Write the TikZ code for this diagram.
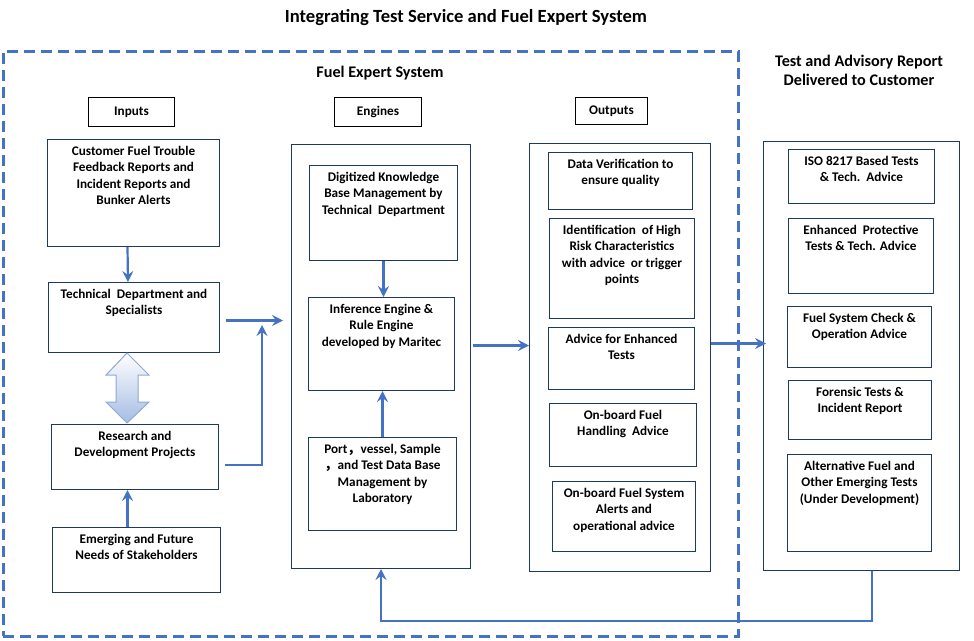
\documentclass[tikz,border=0pt]{standalone}
\usepackage{fontspec}
\setmainfont{Carlito}
\newfontfamily\cjk{Noto Sans CJK SC}
\usetikzlibrary{arrows.meta,calc}
\definecolor{arrblue}{HTML}{4472C4}
\definecolor{navy}{HTML}{203864}
\definecolor{dblfill}{HTML}{A5BCE3}
\definecolor{dbldraw}{HTML}{8FA8D4}
\tikzset{
    box/.style={draw=navy, line width=1pt, anchor=north west, inner sep=0pt},
    hdr/.style={draw=black, line width=1pt, anchor=north west, inner sep=0pt, font=\fontsize{13.2}{15}\selectfont\bfseries},
    txt/.style={anchor=north, inner sep=0pt, align=center, font=\fontsize{13.2}{16.3}\selectfont\bfseries},
    ttl/.style={inner sep=0pt, align=center, font=\fontsize{16.2}{19}\selectfont\bfseries},
    flow/.style={draw=arrblue, line width=2.2pt, -{Stealth[length=11pt,width=11pt,inset=4pt]}}
}
\begin{document}
\begin{tikzpicture}[x=1pt,y=-1pt]
\useasboundingbox (0,0) rectangle (974,640);
\node[ttl, font=\fontsize{18.6}{20}\selectfont\bfseries] (title) at (466,18) {Integrating Test Service and Fuel Expert System};
\node[draw=arrblue, line width=2.5pt, dash pattern=on 11pt off 6pt, anchor=north west, inner sep=0pt, minimum width=735pt, minimum height=585pt] (fesys) at (2,50) {};
\node[ttl] (festitle) at (380,73) {Fuel Expert System};
\node[ttl] (reptitle) at (859,70) {Test and Advisory Report\\Delivered to Customer};
\foreach \x/\y/\w/\h/\n/\t in {88/97/86/29/inputs/Inputs, 334/97/87/29/engines/Engines, 575/97/72/27/outputs/Outputs}{
    \node[hdr, minimum width=\w pt, minimum height=\h pt] (\n) at (\x,\y) {\t};
}
\foreach \x/\y/\w/\h/\n in {291/144/179/424/engbox, 529/143/181/428/outbox, 763/141/196/429/repbox}{
    \node[box, minimum width=\w pt, minimum height=\h pt] (\n) at (\x,\y) {};
}
\foreach \x/\y/\w/\h/\n/\t in {
    47/139/172/107/cust/{Customer Fuel Trouble\\Feedback Reports and\\Incident Reports and\\Bunker Alerts},
    48/282/171/70/tech/{Technical\ \ Department and\\Specialists},
    51/424/167/65/rnd/{Research and\\Development Projects},
    52/527/168/65/needs/{Emerging and Future\\Needs of Stakeholders},
    309/165/148/95/know/{Digitized Knowledge\\Base Management by\\Technical\ \ Department},
    308/297/146/93/infer/{Inference Engine \&\\Rule Engine\\developed by Maritec},
    308/437/148/93/portdb/{Port{\cjk ，}vessel, Sample\\{\cjk ，}and Test Data Base\\Management by\\Laboratory},
    548/152/144/57/verif/{Data Verification to\\ensure quality},
    549/218/145/100/risk/{Identification\ \ of High\\Risk Characteristics\\with advice\ \ or trigger\\points},
    548/327/146/62/enh/{Advice for Enhanced\\Tests},
    549/403/147/63/handl/{On-board Fuel\\Handling\ \ Advice},
    552/481/143/70/alerts/{On-board Fuel System\\Alerts and\\operational advice},
    788/149/146/54/iso/{ISO 8217 Based Tests\\\& Tech.\ \ Advice},
    788/218/145/75/prot/{Enhanced\ \ Protective\\Tests \& Tech. Advice},
    787/306/144/61/check/{Fuel System Check \&\\Operation Advice},
    788/380/143/59/foren/{Forensic Tests \&\\Incident Report},
    787/454/144/97/altf/{Alternative Fuel and\\Other Emerging Tests\\(Under Development)}}{
    \node[box, minimum width=\w pt, minimum height=\h pt] (\n) at (\x,\y) {};
    \node[txt] (\n-t) at ([yshift=-7pt]\n.north) {\t};
}
\draw[draw=dbldraw, line width=1pt, top color=white, bottom color=dblfill] (127,353) -- (149,375) -- (138,375) -- (138,402) -- (149,402) -- (127,423) -- (106,402) -- (116,402) -- (116,375) -- (106,375) -- cycle;
\coordinate (join) at (262,325);
\coordinate (loop) at (872,621);
\draw[flow] ([xshift=-6pt]cust.south) -- ([xshift=-6pt]tech.north);
\draw[flow] ([xshift=-9pt]needs.north) -- ([xshift=-9pt]needs.north |- rnd.south);
\draw[flow] ([xshift=6pt,yshift=-3pt]tech.east) -- ([xshift=-8pt,yshift=-3pt]tech.east -| engbox.west);
\draw[flow] ([xshift=6pt,yshift=-8pt]rnd.east) -| (join);
\draw[flow] (know.south) -- (know.south |- infer.north);
\draw[flow] (portdb.north) -- (portdb.north |- infer.south);
\draw[flow] ([xshift=2pt,yshift=11pt]engbox.east) -- ([yshift=11pt]engbox.east -| outbox.west);
\draw[flow] ([yshift=14pt]outbox.east) -- ([xshift=3pt,yshift=14pt]outbox.east -| repbox.west);
\draw[flow] (repbox.south -| loop) -- (loop) -| (engbox.south);
\end{tikzpicture}
\end{document}
